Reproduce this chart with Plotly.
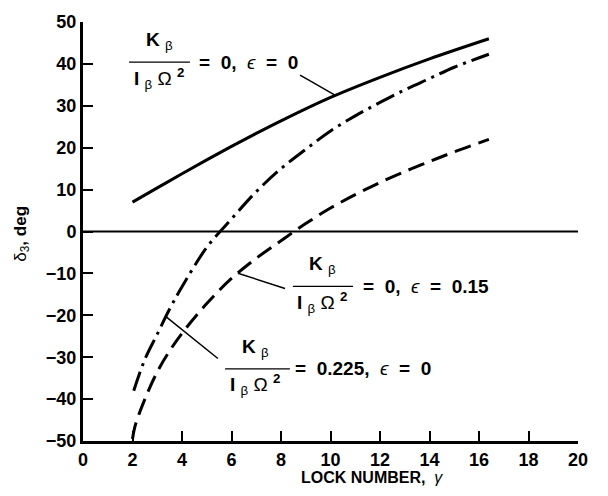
import numpy as np
import plotly.graph_objects as go

# Lock number (gamma) and delta-3 angle (deg) for the three blade configurations
x_base = [2.0, 3.0, 4.0, 5.0, 6.0, 7.0, 8.0, 10.0, 12.0, 14.0, 16.4]
y_base = [7.0, 10.4, 13.8, 17.1, 20.3, 23.4, 26.4, 32.0, 36.8, 41.2, 46.0]        # K/(I Omega^2)=0, eps=0

x_eps = [2.05, 2.5, 3.0, 3.5, 4.0, 5.0, 6.0, 7.0, 8.0, 9.0, 10.0, 11.0, 12.0, 13.0, 14.0, 15.0, 16.4]
y_eps = [-38.0, -30.5, -24.5, -18.5, -13.2, -3.8, 3.0, 9.5, 15.0, 19.6, 24.0, 27.6, 30.8, 33.8, 36.5, 39.2, 42.3]  # dash-dot

x_spr = [2.0, 2.1, 2.5, 3.0, 3.5, 4.0, 5.0, 6.0, 7.0, 8.0, 9.0, 10.0, 11.0, 12.0, 13.0, 14.0, 15.0, 16.4]
y_spr = [-49.5, -46.5, -40.0, -33.5, -28.5, -24.3, -17.2, -11.2, -6.4, -2.2, 1.9, 5.6, 8.8, 11.7, 14.3, 16.7, 19.0, 22.0]  # dashed

x_ticks = [0, 2, 4, 6, 8, 10, 12, 14, 16, 18, 20]
y_ticks = [-50, -40, -30, -20, -10, 0, 10, 20, 30, 40, 50]

FONT = "Liberation Sans, Arial, sans-serif"
LW = 3

fig = go.Figure()
fig.add_trace(go.Scatter(x=x_base, y=y_base, mode="lines",
                         line=dict(color="black", width=LW, shape="spline")))
fig.add_trace(go.Scatter(x=x_eps, y=y_eps, mode="lines",
                         line=dict(color="black", width=LW, shape="spline",
                                   dash="20px,6px,3px,6px")))
fig.add_trace(go.Scatter(x=x_spr, y=y_spr, mode="lines",
                         line=dict(color="black", width=LW, shape="spline",
                                   dash="17px,8px")))

# zero reference line
fig.add_shape(type="line", x0=0, x1=20, y0=0, y1=0, xref="x", yref="y",
              line=dict(color="black", width=2))


def fraction_label(xc, yb, x0b, x1b, rhs_x, rhs, lead_from, curve_x, curve_y, at_x):
    """Draw K_beta / (I_beta Omega^2) = rhs with a leader line to a curve."""
    fig.add_annotation(x=xc, y=yb, yshift=21, xref="x", yref="y", showarrow=False,
                       xanchor="center", yanchor="middle",
                       text="<b>K</b> <sub>β</sub>",
                       font=dict(family=FONT, size=19, color="black"))
    fig.add_shape(type="line", x0=x0b, x1=x1b, y0=yb, y1=yb, xref="x", yref="y",
                  line=dict(color="black", width=1.3))
    fig.add_annotation(x=xc, y=yb, yshift=-16, xref="x", yref="y", showarrow=False,
                       xanchor="center", yanchor="middle",
                       text="<b>I</b> <sub>β</sub> Ω <sup><b>2</b></sup>",
                       font=dict(family=FONT, size=19, color="black"))
    fig.add_annotation(x=rhs_x, y=yb, xref="x", yref="y", showarrow=False,
                       xanchor="left", yanchor="middle", text=rhs,
                       font=dict(family=FONT, size=19, color="black"))
    ty = float(np.interp(at_x, curve_x, curve_y))
    fig.add_shape(type="line", x0=lead_from[0], y0=lead_from[1], x1=at_x, y1=ty,
                  xref="x", yref="y", line=dict(color="black", width=1.5))


fraction_label(3.09, 40.4, 1.86, 4.32, 4.6, "<b>=  0,</b>  <i>ϵ</i>  <b>=  0</b>",
               (8.77, 37.3), x_base, y_base, 10.2)
fraction_label(9.66, -13.1, 8.48, 10.91, 11.25, "<b>=  0,</b>  <i>ϵ</i>  <b>=  0.15</b>",
               (8.16, -13.6), x_spr, y_spr, 6.26)
fraction_label(6.95, -32.8, 5.74, 8.36, 8.5, "<b>=  0.225,</b>  <i>ϵ</i>  <b>=  0</b>",
               (5.45, -30.3), x_eps, y_eps, 3.35)

# axis titles
fig.add_annotation(x=0.584, y=-0.087, xref="paper", yref="paper", showarrow=False,
                   xanchor="center", yanchor="middle",
                   text="<b>LOCK NUMBER,</b>  <i>γ</i>",
                   font=dict(family=FONT, size=16, color="black"))
fig.add_annotation(x=-0.125, y=0.495, xref="paper", yref="paper", showarrow=False,
                   xanchor="center", yanchor="middle",
                   textangle=-90, text="δ<sub>3</sub><b>, deg</b>",
                   font=dict(family=FONT, size=17, color="black"))

fig.update_xaxes(range=[0, 20], tickvals=x_ticks, ticks="inside", ticklen=10,
                 tickwidth=2, tickcolor="black", showline=True, linecolor="black",
                 linewidth=3, showgrid=False, zeroline=False,
                 tickfont=dict(family=FONT, size=18, color="black", weight="bold"))
fig.update_yaxes(range=[-50, 50], tickvals=y_ticks, ticks="inside", ticklen=10,
                 tickwidth=2, tickcolor="black", showline=True, linecolor="black",
                 linewidth=3, showgrid=False, zeroline=False,
                 tickfont=dict(family=FONT, size=18, color="black", weight="bold"))

fig.update_layout(width=608, height=496, showlegend=False,
                  margin=dict(l=83, r=30, t=15, b=55),
                  plot_bgcolor="white", paper_bgcolor="white")

fig.write_html("out.html")
